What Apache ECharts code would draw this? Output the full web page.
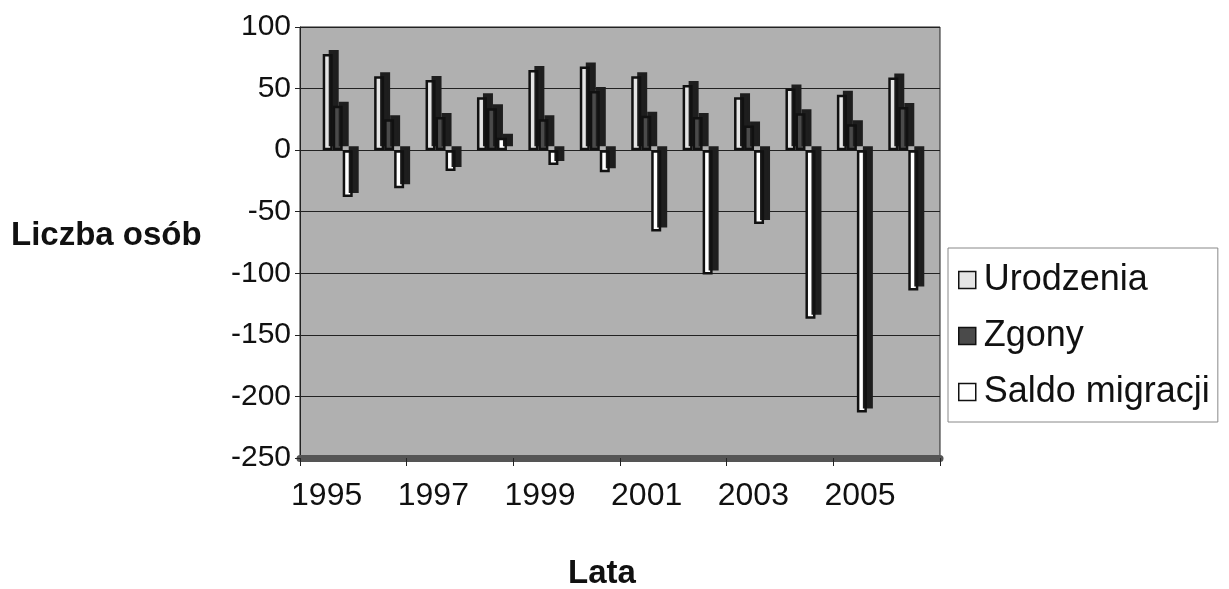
<!DOCTYPE html>
<html>
<head>
<meta charset="utf-8">
<script src="https://cdn.jsdelivr.net/npm/echarts@6/dist/echarts.min.js"></script>
<style>
	html, body { margin: 0; padding: 0; background: #ffffff; }
	#wykres { width: 1229px; height: 589px; }
</style>
</head>
<body>
<div id="wykres"></div>
<script>
	var lata = ['1995', '1996', '1997', '1998', '1999', '2000', '2001', '2002', '2003', '2004', '2005', '2006'];
	var urodzenia = [78, 60, 57, 43, 65, 68, 60, 53, 43, 50, 45, 59];
	var zgony = [36, 25, 27, 34, 25, 48, 28, 27, 20, 30, 21, 35];
	var saldoMigracji = [-38, -31, -17, 10, -12, -18, -66, -101, -60, -137, -213, -114];

	var czcionka = '"Liberation Sans", Arial, sans-serif';

	// ciemny "bok" i "daszek" slupka zamiast prawdziwego 3D
	function styl(kolor) {
		return {
			color: kolor,
			borderColor: '#111',
			borderWidth: 2.5,
			shadowColor: '#1e1e1e',
			shadowOffsetX: 6,
			shadowOffsetY: -4,
			shadowBlur: 0
		};
	}

	var wykres = echarts.init(document.getElementById('wykres'));
	var opcje = {
		animation: false,
		backgroundColor: '#ffffff',
		grid: [
			{
				left: 300,
				right: 289,
				top: 27,
				bottom: 131,
				show: true,
				backgroundColor: '#b0b0b0',
				borderColor: '#222',
				borderWidth: 1
			},
			// slupki lekko przesuniete jak w rzucie 3D
			{
				left: 312,
				right: 300,
				top: 27,
				bottom: 131
			}
		],
		legend: {
			orient: 'vertical',
			left: 948,
			top: 248,
			icon: 'rect',
			itemWidth: 17,
			itemHeight: 17,
			itemGap: 20,
			padding: [14, 8, 12, 10],
			borderColor: '#888',
			borderWidth: 1,
			backgroundColor: '#ffffff',
			textStyle: { fontFamily: czcionka, fontSize: 36, color: '#111', padding: [0, 0, 0, 3] },
			itemStyle: { shadowColor: 'transparent', shadowOffsetX: 0, shadowOffsetY: 0, borderWidth: 1.5 },
			data: ['Urodzenia', 'Zgony', 'Saldo migracji']
		},
		xAxis: [
			{
				type: 'category',
				gridIndex: 0,
				data: lata,
				axisLine: { onZero: false, lineStyle: { color: '#555', width: 7 } },
				axisTick: { show: true, alignWithLabel: false, length: 8, lineStyle: { color: '#222' } },
				axisLabel: { interval: 1, margin: 22, fontFamily: czcionka, fontSize: 32, color: '#111' },
				splitLine: { show: false }
			},
			{
				type: 'category',
				gridIndex: 1,
				data: lata,
				show: false
			}
		],
		yAxis: [
			{
				type: 'value',
				gridIndex: 0,
				min: -250,
				max: 100,
				interval: 50,
				axisLine: { show: true, lineStyle: { color: '#222' } },
				axisTick: { show: true, length: 5, lineStyle: { color: '#222' } },
				axisLabel: { margin: 9, fontFamily: czcionka, fontSize: 30, color: '#111' },
				splitLine: { show: true, lineStyle: { color: '#222', width: 1.2 } }
			},
			{
				type: 'value',
				gridIndex: 1,
				min: -250,
				max: 100,
				interval: 50,
				show: false,
				splitLine: { show: false }
			}
		],
		graphic: [
			{
				type: 'text',
				left: 11,
				top: 219,
				style: { text: 'Liczba osób', fontFamily: czcionka, fontSize: 33, fontWeight: 'bold', fill: '#111' }
			},
			{
				type: 'text',
				left: 568,
				top: 557,
				style: { text: 'Lata', fontFamily: czcionka, fontSize: 33, fontWeight: 'bold', fill: '#111' }
			}
		],
		series: [
			{
				name: 'Urodzenia',
				type: 'bar',
				xAxisIndex: 1,
				yAxisIndex: 1,
				data: urodzenia,
				barWidth: 10,
				barGap: '0%',
				itemStyle: styl('#e4e4e4')
			},
			{
				name: 'Zgony',
				type: 'bar',
				xAxisIndex: 1,
				yAxisIndex: 1,
				data: zgony,
				barWidth: 10,
				barGap: '0%',
				itemStyle: styl('#4a4a4a')
			},
			{
				name: 'Saldo migracji',
				type: 'bar',
				xAxisIndex: 1,
				yAxisIndex: 1,
				data: saldoMigracji,
				barWidth: 10,
				barGap: '0%',
				itemStyle: styl('#ffffff')
			}
		]
	};
	wykres.setOption(opcje);
</script>
</body>
</html>
